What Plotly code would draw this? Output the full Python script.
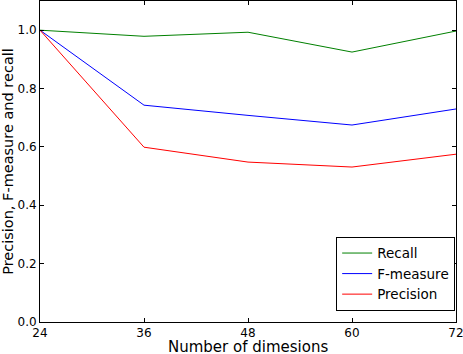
import plotly.graph_objects as go

dims = [24, 36, 48, 60, 72]
recall = [1.0, 0.979, 0.993, 0.925, 0.997]
fmeasure = [1.0, 0.743, 0.708, 0.675, 0.730]
precision = [1.0, 0.599, 0.548, 0.531, 0.575]
y_ticks = [0.0, 0.2, 0.4, 0.6, 0.8, 1.0]

fig = go.Figure()
fig.add_trace(go.Scatter(x=dims, y=recall, mode="lines", name="Recall",
                         line=dict(color="green", width=1)))
fig.add_trace(go.Scatter(x=dims, y=fmeasure, mode="lines", name="F-measure",
                         line=dict(color="blue", width=1)))
fig.add_trace(go.Scatter(x=dims, y=precision, mode="lines", name="Precision",
                         line=dict(color="red", width=1)))

font = "DejaVu Sans, sans-serif"
fig.update_layout(
    width=463, height=354,
    margin=dict(l=40, r=7, t=1, b=32, autoexpand=False),
    plot_bgcolor="white", paper_bgcolor="white",
    font=dict(family=font, color="black", size=12),
    showlegend=True,
    legend=dict(x=0.998, y=0.035, xanchor="right", yanchor="bottom",
                bordercolor="black", borderwidth=1, bgcolor="white",
                font=dict(size=13.5), tracegroupgap=0, itemwidth=30),
    annotations=[dict(text="Number of dimesions", xref="paper", yref="paper",
                      x=0.5, y=0, xanchor="center", yanchor="top", yshift=-14,
                      showarrow=False, font=dict(size=15))],
)
fig.update_xaxes(
    range=[24, 72], tickvals=dims, ticks="inside", ticklen=4, tickcolor="black",
    showline=True, linecolor="black", linewidth=1, mirror="ticks", showgrid=False,
    zeroline=False, automargin=False, ticklabeloverflow="allow",
)
fig.update_yaxes(
    range=[0, 1.1], tickvals=y_ticks, tickformat=".1f", ticks="inside", ticklen=4,
    tickcolor="black", showline=True, linecolor="black", linewidth=1, mirror="ticks",
    showgrid=False, zeroline=False, automargin=False, ticklabeloverflow="allow",
    title=dict(text="Precision, F-measure and recall", font=dict(size=14.5)),
)

fig.write_html("out.html", config={"displayModeBar": False},
               post_script="document.body.style.margin='0';")
